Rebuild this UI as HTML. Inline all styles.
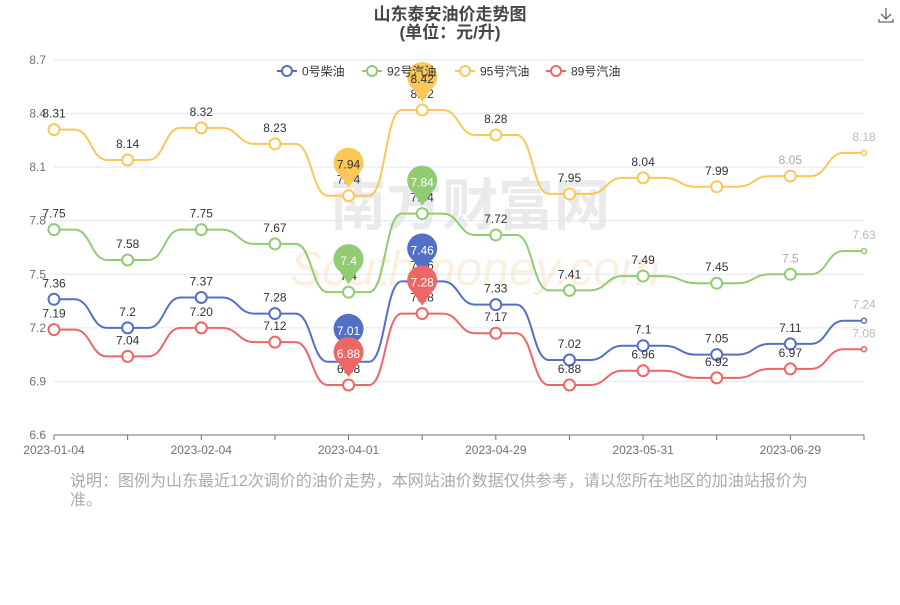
<!DOCTYPE html>
<html><head><meta charset="utf-8">
<style>
body{margin:0;background:#fff;width:900px;height:600px;overflow:hidden;font-family:"Liberation Sans","Noto Sans CJK SC",sans-serif;}
svg text{font-family:"Liberation Sans","Noto Sans CJK SC",sans-serif;}
</style></head>
<body>
<svg id="chart" width="900" height="600" xmlns="http://www.w3.org/2000/svg">
<text x="450" y="20" text-anchor="middle" font-size="17" font-weight="bold" fill="#464646">山东泰安油价走势图</text>
<text x="450" y="38" text-anchor="middle" font-size="17" font-weight="bold" fill="#464646">(单位：元/升)</text>
<g stroke="#666" stroke-width="1.3" fill="none">
<path d="M886 8 V19 M881 14 L886 19 L891 14 M879 19 V22 H893 V19"/>
</g>
<text x="330" y="225" font-size="56" font-weight="bold" fill="#ccc" opacity="0.4">南方财富网</text>
<text x="290" y="285" font-size="48" font-style="italic" fill="#f6d9b0" opacity="0.4">Southmoney.com</text>
<g id="grid"></g>
<g id="series"></g>
<g id="legend"></g>
<text font-size="16" fill="#aaa"><tspan x="70" y="486">说明：图例为山东最近12次调价的油价走势，本网站油价数据仅供参考，请以您所在地区的加油站报价为</tspan><tspan x="70" y="505">准。</tspan></text>
</svg>
<script>
const categories=["2023-01-04","2023-01-18","2023-02-04","2023-02-18","2023-04-01","2023-04-15","2023-04-29","2023-05-17","2023-05-31","2023-06-14","2023-06-29","2023-07-13"];
const xTickLabels=["2023-01-04","","2023-02-04","","2023-04-01","","2023-04-29","","2023-05-31","","2023-06-29",""];
const seriesNames=["0号柴油","92号汽油","95号汽油","89号汽油"];
const diesel0=[7.36,7.2,7.37,7.28,7.01,7.46,7.33,7.02,7.1,7.05,7.11,7.24];
const gas92=[7.75,7.58,7.75,7.67,7.4,7.84,7.72,7.41,7.49,7.45,7.5,7.63];
const gas95=[8.31,8.14,8.32,8.23,7.94,8.42,8.28,7.95,8.04,7.99,8.05,8.18];
const gas89=[7.19,7.04,7.20,7.12,6.88,7.28,7.17,6.88,6.96,6.92,6.97,7.08];
const yTicks=[6.6,6.9,7.2,7.5,7.8,8.1,8.4,8.7];
const colors=["#5470c6","#91cc75","#fac858","#ee6666"];
const NS="http://www.w3.org/2000/svg";
const X0=54,X1=864,Y0=435,Y1=60,YMIN=6.6,YMAX=8.7;
const xs=i=>X0+i*(X1-X0)/(categories.length-1);
const ys=v=>Y0-(v-YMIN)/(YMAX-YMIN)*(Y0-Y1);
function mk(tag,attrs,parent){const e=document.createElementNS(NS,tag);for(const k in attrs)e.setAttribute(k,attrs[k]);parent.appendChild(e);return e;}
const grid=document.getElementById('grid');
yTicks.forEach(t=>{
 const l=mk('line',{x1:X0,x2:X1,y1:ys(t),y2:ys(t),stroke:t===6.6?'#6e7079':'#e0e6f1'},grid);
 
 
 const tx=mk('text',{x:46,y:ys(t)+4,'text-anchor':'end','font-size':12,fill:'#6e7079'},grid);
 tx.textContent=t.toFixed(1);
 
 
});
categories.forEach((c,i)=>{
 const tk=mk('line',{x1:xs(i),x2:xs(i),y1:Y0,y2:Y0+5,stroke:'#6e7079'},grid);
 
 
 if(xTickLabels[i]){const t=mk('text',{x:xs(i),y:Y0+19,'text-anchor':'middle','font-size':12,fill:'#6e7079'},grid);
 t.textContent=xTickLabels[i];
 
 }
});
const data=[diesel0,gas92,gas95,gas89];
const sg=document.getElementById('series');
data.forEach((arr,s)=>{
 const g=mk('g',{},sg);
 
 
 let d='M'+xs(0)+' '+ys(arr[0]);
 for(let i=1;i<arr.length;i++){const xa=xs(i-1),xb=xs(i),dx=xb-xa;
  const a=xa+0.28*dx,b=xb-0.28*dx,m=(a+b)/2;
  d+=` L${a} ${ys(arr[i-1])} C${m} ${ys(arr[i-1])} ${m} ${ys(arr[i])} ${b} ${ys(arr[i])} L${xb} ${ys(arr[i])}`;}
 const p=mk('path',{d:d,fill:'none',stroke:colors[s],'stroke-width':2},g);
 
 
 arr.forEach((v,i)=>{
  const last=i===arr.length-1;
  const c=mk('circle',{cx:xs(i),cy:ys(v),r:last?2.5:5.5,fill:'#fff',stroke:colors[s],'stroke-width':last?1.5:2},g);
  
  
  const t=mk('text',{x:xs(i),y:ys(v)-12,'text-anchor':'middle','font-size':12,fill:last||i===10&&s!==0&&s!==3?'#aaa':'#333'},g);
  if(last)t.setAttribute('fill','#bbb');
  t.textContent=String(v===7.2&&s===3?'7.20':v);
  
  
 });
 const mx=arr.indexOf(Math.max(...arr)),mn=arr.indexOf(Math.min(...arr));
 [mn,mx].forEach(i=>{
  const cx=xs(i),cy=ys(arr[i]);
  const pin=mk('path',{d:`M${cx} ${cy-8} L${cx-9} ${cy-21} A15 15 0 1 1 ${cx+9} ${cy-21} Z`,fill:colors[s]},g);
  
  
  const t=mk('text',{x:cx,y:cy-27,'text-anchor':'middle','font-size':12,fill:s===2?'#333':'#fff'},g);
  t.textContent=String(arr[i]);
  
  
 });
});
const lg=document.getElementById('legend');
const lx=[277,362,455,546];
seriesNames.forEach((n,s)=>{
 const g=mk('g',{},lg);
 
 
 mk('line',{x1:lx[s],x2:lx[s]+20,y1:71,y2:71,stroke:colors[s],'stroke-width':2},g);
 mk('circle',{cx:lx[s]+10,cy:71,r:5,fill:'#fff',stroke:colors[s],'stroke-width':2},g);
 const t=mk('text',{x:lx[s]+25,y:75.5,'font-size':12,fill:'#333'},g);
 t.textContent=n;
});
</script>
</body></html>
